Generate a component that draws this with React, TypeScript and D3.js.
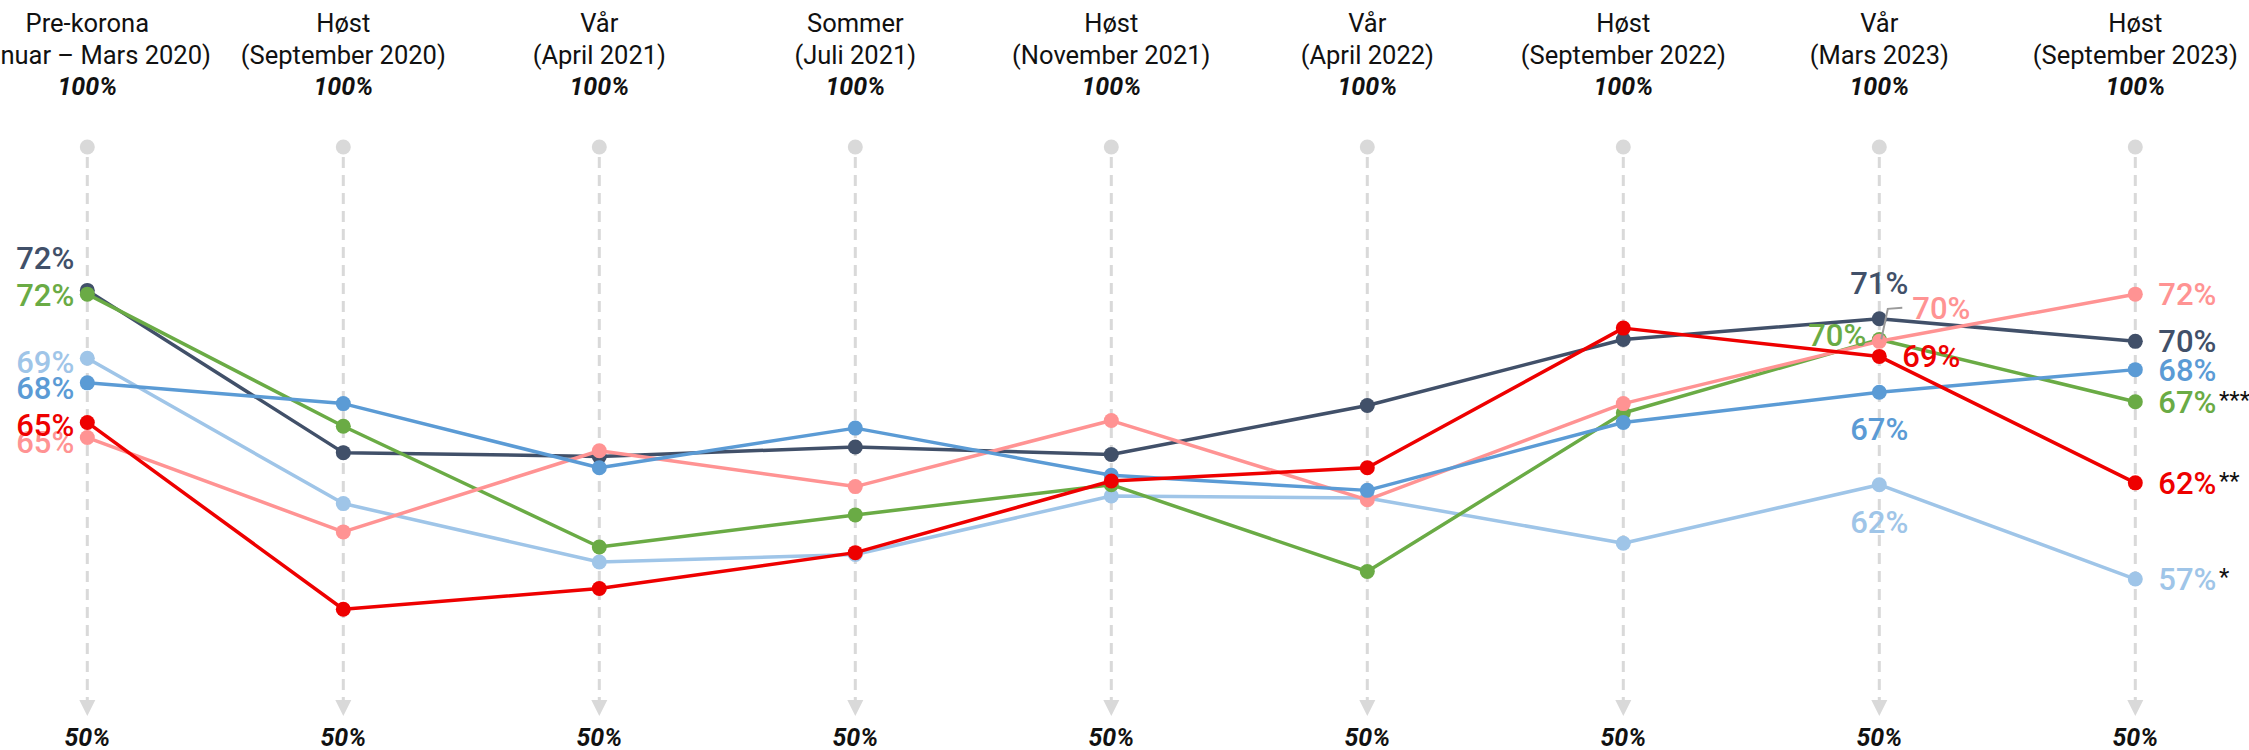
import React from 'react';
import * as d3 from 'd3';

// Survey waves (columns)
const periods = ['Pre-korona', 'Høst', 'Vår', 'Sommer', 'Høst', 'Vår', 'Høst', 'Vår', 'Høst'];
const periodDates = [
  '(Januar – Mars 2020)',
  '(September 2020)',
  '(April 2021)',
  '(Juli 2021)',
  '(November 2021)',
  '(April 2022)',
  '(September 2022)',
  '(Mars 2023)',
  '(September 2023)'
];
const topLabel = '100%';
const bottomLabel = '50%';

// Series values (percent)
const navy = [72.4, 63.8, 63.6, 64.1, 63.7, 66.3, 69.8, 70.9, 69.7];
const green = [72.2, 65.2, 58.8, 60.5, 62.1, 57.5, 65.9, 69.8, 66.5];
const lightBlue = [68.8, 61.1, 58.0, 58.4, 61.5, 61.4, 59.0, 62.1, 57.1];
const midBlue = [67.5, 66.4, 63.0, 65.1, 62.6, 61.8, 65.4, 67.0, 68.2];
const red = [65.4, 55.5, 56.6, 58.5, 62.3, 63.0, 70.4, 68.9, 62.2];
const pink = [64.6, 59.6, 63.9, 62.0, 65.5, 61.3, 66.4, 69.7, 72.2];

// significance markers after the last label
const significance: Record<string, string> = { green: '***', red: '**', lightBlue: '*' };

// drawing order: first is at the bottom
const series = [
  { key: 'lightBlue', values: lightBlue, color: '#9fc5e8' },
  { key: 'navy', values: navy, color: '#415069' },
  { key: 'green', values: green, color: '#6aab45' },
  { key: 'pink', values: pink, color: '#ff9393' },
  { key: 'midBlue', values: midBlue, color: '#5b9bd5' },
  { key: 'red', values: red, color: '#ee0000' }
];

// label placement per series for the three labelled columns
// dx/dy relative to the dot, anchor for text-anchor
type Place = { dx: number; dy: number; anchor: 'start' | 'middle' | 'end' };
const placeFirst: Record<string, Place> = {
  navy: { dx: -13, dy: -32, anchor: 'end' },
  green: { dx: -13, dy: 1, anchor: 'end' },
  lightBlue: { dx: -13, dy: 4, anchor: 'end' },
  midBlue: { dx: -13, dy: 5, anchor: 'end' },
  red: { dx: -13, dy: 3, anchor: 'end' },
  pink: { dx: -13, dy: 4, anchor: 'end' }
};
const placeEighth: Record<string, Place> = {
  navy: { dx: 0, dy: -36, anchor: 'middle' },
  pink: { dx: 33, dy: -33, anchor: 'start' },
  green: { dx: -13, dy: -4, anchor: 'end' },
  red: { dx: 23, dy: 0, anchor: 'start' },
  midBlue: { dx: 0, dy: 37, anchor: 'middle' },
  lightBlue: { dx: 0, dy: 37, anchor: 'middle' }
};
const placeLast: Place = { dx: 23, dy: 0, anchor: 'start' };

const W = 2249;
const H = 750;
const FONT = 'Roboto, "Noto Sans", sans-serif';

export default function App() {
  const x = d3
    .scalePoint<number>()
    .domain(d3.range(periods.length))
    .range([87.3, 2135.3]);
  const y = d3.scaleLinear().domain([50, 80]).range([713, 147]);

  const line = d3
    .line<number>()
    .x((_, i) => x(i)!)
    .y(d => y(d));

  const axisTop = y(80);
  const axisBottom = y(50);

  const valueLabel = (s: typeof series[number], col: number, p: Place) => {
    const cx = x(col)! + p.dx;
    const cy = y(s.values[col]) + p.dy + 11;
    return (
      <text
        key={`${s.key}-${col}`}
        x={cx}
        y={cy}
        textAnchor={p.anchor}
        fill={s.color}
        fontSize={31}
        fontWeight={500}
      >
        {`${Math.round(s.values[col])}%`}
      </text>
    );
  };

  const last = periods.length - 1;
  const pinkS = series.find(s => s.key === 'pink')!;
  const pinkX = x(7)!;
  const pinkY = y(pinkS.values[7]);

  return (
    <div>
      <style>{'body{margin:0}'}</style>
      <svg width={W} height={H} style={{ display: 'block', fontFamily: FONT }}>
        {/* column headers and axes */}
        {periods.map((p, i) => (
          <g key={i} transform={`translate(${x(i)},0)`}>
            <text y={31.7} textAnchor="middle" fontSize={25.5} fill="#111">{p}</text>
            <text y={64} textAnchor="middle" fontSize={25.5} fill="#111">{periodDates[i]}</text>
            <text y={95} textAnchor="middle" fontSize={25} fontWeight={700} fontStyle="italic" fill="#111">
              {topLabel}
            </text>
            <circle cy={axisTop} r={7.5} fill="#d9d9d9" />
            <line
              y1={axisTop + 10}
              y2={axisBottom - 13}
              stroke="#d9d9d9"
              strokeWidth={3}
              strokeDasharray="11 7"
            />
            <path d={`M-8,${axisBottom - 13} L8,${axisBottom - 13} L0,${axisBottom + 3} Z`} fill="#d9d9d9" />
            <text y={745.5} textAnchor="middle" fontSize={25} fontWeight={700} fontStyle="italic" fill="#111">
              {bottomLabel}
            </text>
          </g>
        ))}

        {/* series lines and dots */}
        {series.map(s => (
          <g key={s.key}>
            <path d={line(s.values)!} fill="none" stroke={s.color} strokeWidth={3.5} strokeLinejoin="round" />
            {s.values.map((v, i) => (
              <circle key={i} cx={x(i)} cy={y(v)} r={7.5} fill={s.color} />
            ))}
          </g>
        ))}

        {/* leader line for the pink label at column 8 */}
        <path
          d={`M${pinkX + 2},${pinkY - 2} L${pinkX + 8.5},${pinkY - 32.5} L${pinkX + 23},${pinkY - 33.5}`}
          fill="none"
          stroke="#9a9a9a"
          strokeWidth={2}
        />

        {/* value labels */}
        {series.map(s => valueLabel(s, 0, placeFirst[s.key]))}
        {series.map(s => valueLabel(s, 7, placeEighth[s.key]))}
        {series.map(s => valueLabel(s, last, placeLast))}

        {/* significance asterisks */}
        {series
          .filter(s => significance[s.key])
          .map(s => (
            <text
              key={`sig-${s.key}`}
              x={2219}
              y={y(s.values[last]) + 5.8}
              fontSize={24}
              fill="#111"
            >
              {significance[s.key]}
            </text>
          ))}
      </svg>
    </div>
  );
}
